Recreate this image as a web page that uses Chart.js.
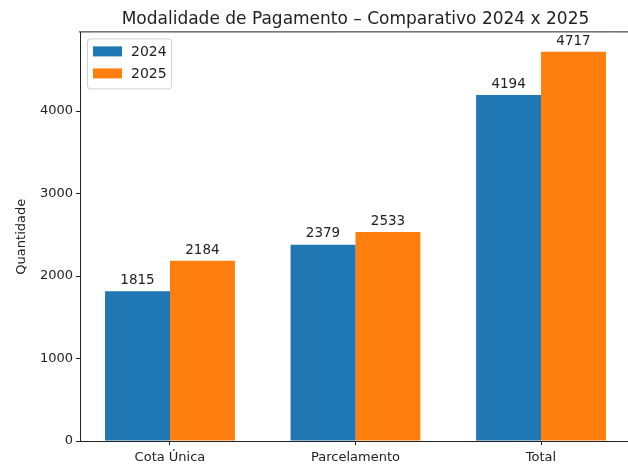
<!DOCTYPE html>
<html>
<head>
<meta charset="utf-8">
<script src="https://cdn.jsdelivr.net/npm/chart.js@4.4.1/dist/chart.umd.min.js"></script>
<style>
  html, body { margin: 0; padding: 0; background: #fff; overflow: hidden; }
  #wrap { width: 628px; height: 464px; overflow: hidden; }
  #myChart { display: block; }
</style>
</head>
<body>
<div id="wrap"><canvas id="myChart" width="660" height="464"></canvas></div>
<script>
const categories = ['Cota Única', 'Parcelamento', 'Total'];
const seriesNames = ['2024', '2025'];
const values2024 = [1815, 2379, 4194];
const values2025 = [2184, 2533, 4717];
const yTicks = [0, 1000, 2000, 3000, 4000];

const FONT = "'DejaVu Sans', sans-serif";
const BLUE = '#1f77b4';
const ORANGE = '#ff7f0e';

// rotulos em cima das barras
const valueLabels = {
  id: 'valueLabels',
  afterDatasetsDraw(chart) {
    const ctx = chart.ctx;
    ctx.save();
    ctx.font = '13.5px ' + FONT;
    ctx.fillStyle = '#222';
    ctx.textAlign = 'center';
    ctx.textBaseline = 'bottom';
    chart.data.datasets.forEach((ds, i) => {
      chart.getDatasetMeta(i).data.forEach((bar, j) => {
        ctx.fillText(String(ds.data[j].y), bar.x, bar.y - 4);
      });
    });
    ctx.restore();
  }
};

// linha de cima e legenda no canto
const frameAndLegend = {
  id: 'frameAndLegend',
  afterDraw(chart) {
    const ctx = chart.ctx;
    const a = chart.chartArea;
    ctx.save();
    ctx.strokeStyle = '#222';
    ctx.lineWidth = 1;
    ctx.beginPath();
    ctx.moveTo(a.left - 1, a.top - 0.5);
    ctx.lineTo(a.right, a.top - 0.5);
    ctx.stroke();

    const bx = a.left + 7, by = a.top + 6, bw = 84, bh = 50;
    ctx.fillStyle = 'rgba(255,255,255,0.8)';
    ctx.strokeStyle = '#d0d0d0';
    ctx.beginPath();
    ctx.roundRect(bx + 0.5, by + 0.5, bw, bh, 3);
    ctx.fill();
    ctx.stroke();

    ctx.font = '14px ' + FONT;
    ctx.textBaseline = 'middle';
    ctx.textAlign = 'left';
    chart.data.datasets.forEach((ds, i) => {
      const cy = by + 13 + i * 22;
      ctx.fillStyle = ds.backgroundColor;
      ctx.fillRect(bx + 6, cy - 5, 29, 10);
      ctx.fillStyle = '#222';
      ctx.fillText(ds.label, bx + 44, cy + 1);
    });
    ctx.restore();
  }
};

const ctx = document.querySelector('#myChart').getContext('2d');

const myChart = new Chart(ctx, {
  type: 'bar',
  data: {
    datasets: [
      {
        label: seriesNames[0],
        data: values2024.map((v, i) => ({ x: i, y: v })),
        backgroundColor: BLUE
      },
      {
        label: seriesNames[1],
        data: values2025.map((v, i) => ({ x: i, y: v })),
        backgroundColor: ORANGE
      }
    ]
  },
  plugins: [valueLabels, frameAndLegend],
  options: {
    responsive: false,
    animation: false,
    categoryPercentage: 0.7,
    barPercentage: 1.0,
    layout: { padding: { left: 0, right: 29, top: 0, bottom: 0 } },
    plugins: {
      legend: { display: false },
      tooltip: { enabled: false },
      title: {
        display: true,
        fullSize: false,
        text: 'Modalidade de Pagamento – Comparativo 2024 x 2025',
        color: '#222',
        font: { family: FONT, size: 17, weight: 'normal' },
        padding: { top: 9, bottom: 3 }
      }
    },
    scales: {
      x: {
        type: 'linear',
        offset: false,
        min: -0.485,
        max: 2.485,
        afterBuildTicks(axis) {
          axis.ticks = categories.map((c, i) => ({ value: i }));
        },
        afterFit(axis) { axis.height = 23; },
        grid: { offset: false, drawOnChartArea: false, drawTicks: true, tickLength: 4, color: '#222' },
        border: { color: '#222' },
        ticks: {
          color: '#222',
          padding: 5,
          maxRotation: 0,
          font: { family: FONT, size: 13 },
          callback: (v) => categories[v]
        }
      },
      y: {
        min: 0,
        max: 4953,
        afterBuildTicks(axis) {
          axis.ticks = yTicks.map(v => ({ value: v }));
        },
        afterFit(axis) { axis.width = 80; },
        grid: { drawOnChartArea: false, drawTicks: true, tickLength: 4, color: '#222' },
        border: { color: '#222' },
        ticks: {
          color: '#222',
          padding: 3,
          font: { family: FONT, size: 13 },
          callback: (v) => String(v)
        },
        title: {
          display: true,
          text: 'Quantidade',
          color: '#222',
          font: { family: FONT, size: 13 },
          padding: { top: 14, bottom: 4 }
        }
      }
    }
  }
});
</script>
</body>
</html>
